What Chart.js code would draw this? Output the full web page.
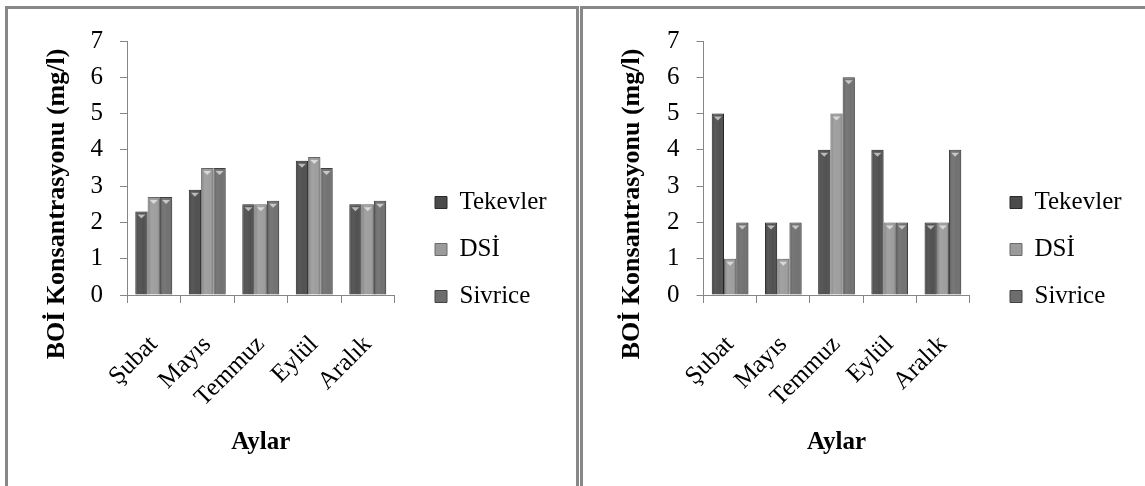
<!DOCTYPE html>
<html>
<head>
<meta charset="utf-8">
<script src="https://cdn.jsdelivr.net/npm/chart.js@4.4.1/dist/chart.umd.min.js"></script>
<style>
  body { margin: 0; background: #fff; width: 1145px; height: 486px; overflow: hidden; position: relative; }
  .box { position: absolute; top: 6px; height: 520px; border: 3px solid #888; border-bottom: none; }
  #boxA { left: 5px; width: 568px; }
  #boxB { left: 580px; width: 600px; border-right: none; }
  canvas { display: block; }
</style>
</head>
<body>
<div class="box" id="boxA"><canvas id="chartA" width="568" height="477"></canvas></div>
<div class="box" id="boxB"><canvas id="chartB" width="568" height="477"></canvas></div>
<script>
const months = ['Şubat', 'Mayıs', 'Temmuz', 'Eylül', 'Aralık'];
const seriesNames = ['Tekevler', 'DSİ', 'Sivrice'];

// left chart
const tekevlerA = [2.3, 2.9, 2.5, 3.7, 2.5];
const dsiA = [2.7, 3.5, 2.5, 3.8, 2.5];
const sivriceA = [2.7, 3.5, 2.6, 3.5, 2.6];

// right chart
const tekevlerB = [5, 2, 4, 4, 2];
const dsiB = [1, 1, 5, 2, 2];
const sivriceB = [2, 2, 6, 2, 4];

const yMin = 0, yMax = 7, yStep = 1;
const yTitle = 'BOİ Konsantrasyonu (mg/l)';
const xTitle = 'Aylar';

const fills = ['#4b4b4b', '#9b9b9b', '#6d6d6d'];
const edges = ['#2a2a2a', '#6a6a6a', '#434343'];
const serif = 'Liberation Serif';

// places the legend, shades the bars and draws the y title
const decor = {
  id: 'decor',
  beforeDraw(chart, args, opts) {
    const lg = chart.legend;
    lg.left = opts.legendX;
    lg.top = opts.legendY;
    lg.right = lg.left + lg.width;
    lg.bottom = lg.top + lg.height;
  },
  beforeDatasetsDraw(chart) {
    const ctx = chart.ctx;
    ctx.save();
    ctx.shadowColor = 'rgba(0,0,0,0.2)';
    ctx.shadowBlur = 5;
    ctx.shadowOffsetX = 3;
  },
  afterDatasetsDraw(chart) {
    const ctx = chart.ctx;
    ctx.restore();
    chart.data.datasets.forEach((ds, i) => {
      chart.getDatasetMeta(i).data.forEach(bar => {
        const { x, y, width, base } = bar.getProps(['x', 'y', 'width', 'base'], true);
        const l = x - width / 2;
        const g = ctx.createLinearGradient(l, 0, l + width, 0);
        g.addColorStop(0, 'rgba(0,0,0,0.25)');
        g.addColorStop(0.35, 'rgba(255,255,255,0.07)');
        g.addColorStop(0.7, 'rgba(255,255,255,0.03)');
        g.addColorStop(1, 'rgba(0,0,0,0.3)');
        ctx.fillStyle = g;
        ctx.fillRect(l + 1, y + 1, width - 2, base - y - 1);
        ctx.fillStyle = 'rgba(255,255,255,0.6)';
        ctx.beginPath();
        ctx.moveTo(x - 4, y + 3);
        ctx.lineTo(x + 4, y + 3);
        ctx.lineTo(x, y + 7);
        ctx.closePath();
        ctx.fill();
      });
    });
  },
  afterDraw(chart, args, opts) {
    const ctx = chart.ctx;
    ctx.save();
    ctx.translate(opts.titleX, opts.titleY);
    ctx.rotate(-Math.PI / 2);
    ctx.font = 'bold 26px "' + serif + '"';
    ctx.fillStyle = '#000';
    ctx.textAlign = 'center';
    ctx.textBaseline = 'middle';
    ctx.fillText(yTitle, 0, 0);
    ctx.restore();
  }
};

function makeChart(id, vals, axisW) {
  return new Chart(document.getElementById(id), {
    type: 'bar',
    data: {
      labels: months,
      datasets: seriesNames.map((name, i) => ({
        label: name,
        data: vals[i],
        backgroundColor: fills[i],
        borderColor: edges[i],
        borderWidth: 1,
        categoryPercentage: 0.69,
        barPercentage: 1
      }))
    },
    options: {
      responsive: false,
      animation: false,
      devicePixelRatio: 1,
      layout: { padding: { top: 26, right: 181.5, left: 0, bottom: 0 } },
      plugins: {
        legend: {
          position: 'chartArea',
          align: 'start',
          labels: {
            color: '#000',
            font: { family: serif, size: 25 },
            boxWidth: 12,
            boxHeight: 12,
            padding: 22
          }
        },
        tooltip: { enabled: false },
        decor: { legendX: 405, legendY: 159, titleX: 49.5, titleY: 195 }
      },
      scales: {
        x: {
          grid: { offset: true, drawOnChartArea: false, tickLength: 8, color: '#868686' },
          border: { color: '#868686' },
          ticks: {
            color: '#000',
            font: { family: serif, size: 25 },
            minRotation: 45,
            maxRotation: 45,
            autoSkip: false,
            padding: 27
          },
          title: {
            display: true,
            text: xTitle,
            color: '#000',
            font: { family: serif, size: 25, weight: 'bold' },
            padding: { top: 0, bottom: 28 }
          },
          afterFit: s => { s.height = 191; }
        },
        y: {
          min: yMin,
          max: yMax,
          grid: { drawOnChartArea: false, tickLength: 7, color: '#868686' },
          border: { color: '#868686' },
          ticks: { stepSize: yStep, color: '#000', font: { family: serif, size: 25 }, padding: 17 },
          afterFit: s => { s.width = axisW; }
        }
      }
    },
    plugins: [decor]
  });
}

makeChart('chartA', [tekevlerA, dsiA, sivriceA], 119);
makeChart('chartB', [tekevlerB, dsiB, sivriceB], 120.5);
</script>
</body>
</html>
